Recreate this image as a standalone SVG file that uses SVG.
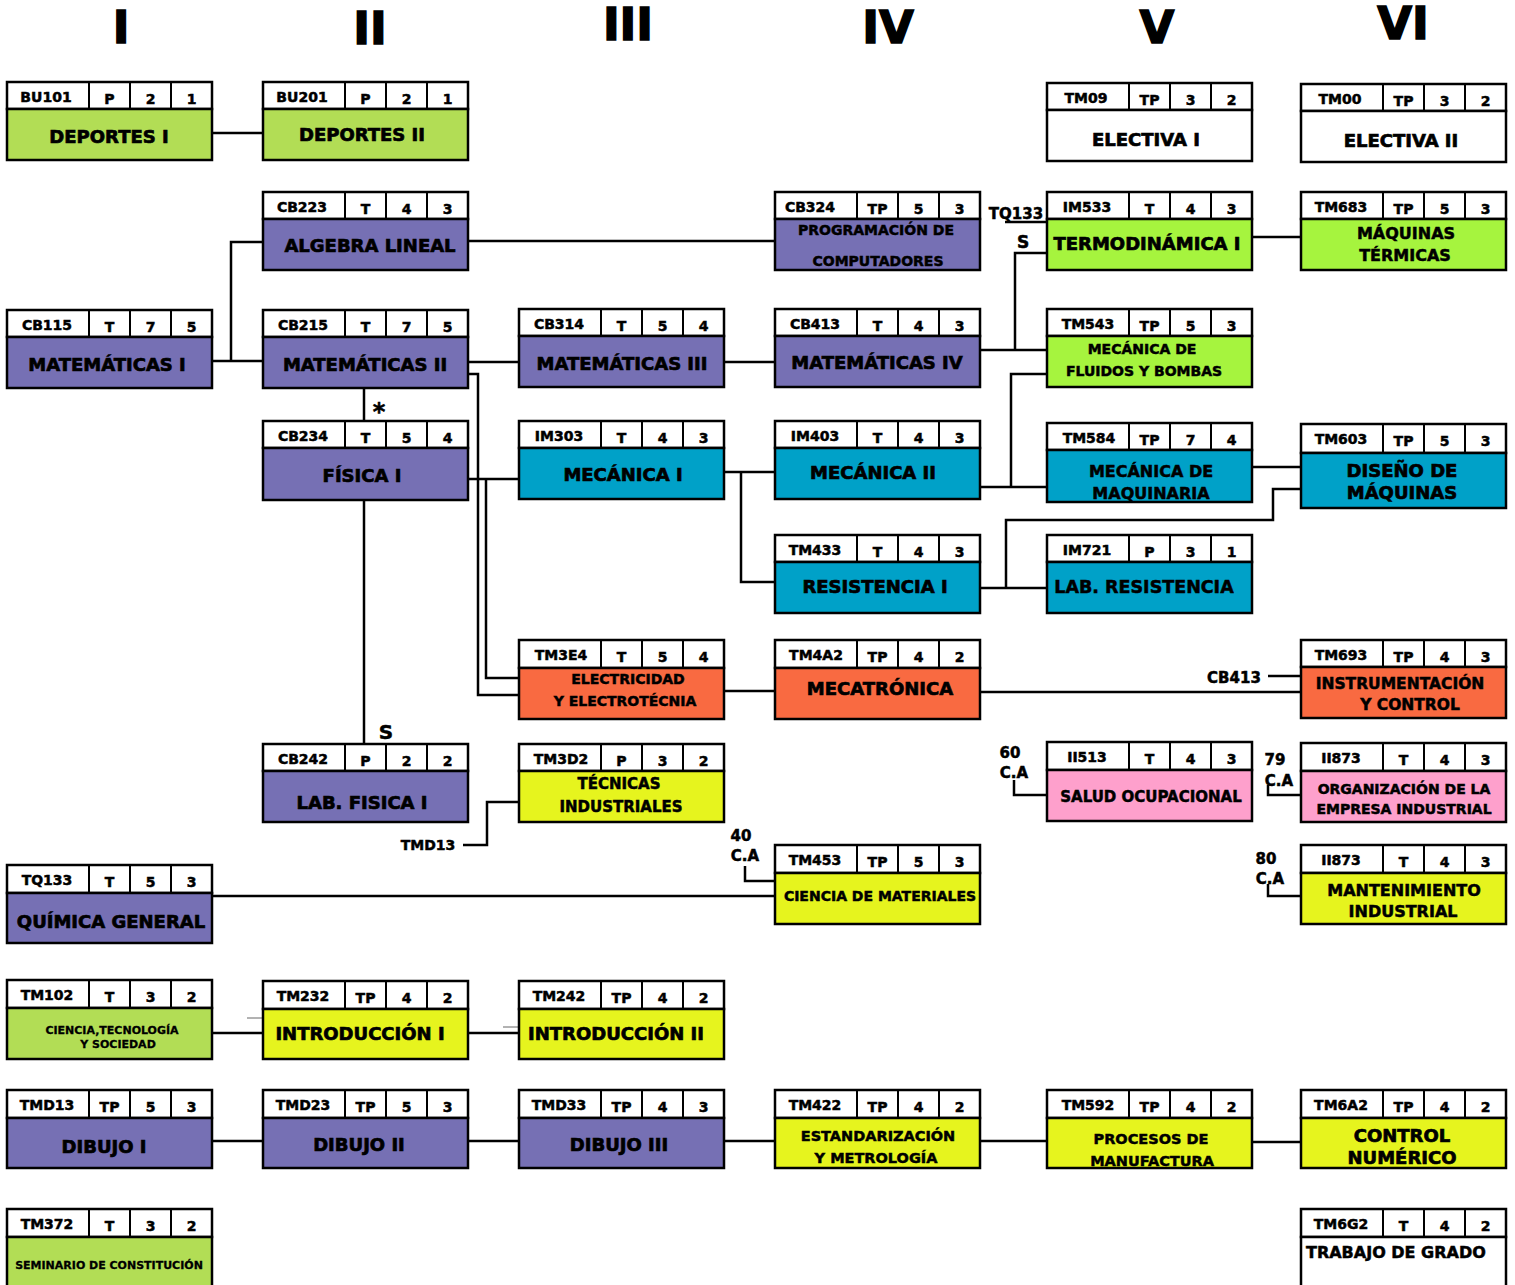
<svg xmlns="http://www.w3.org/2000/svg" width="1515" height="1285" viewBox="0 0 1515 1285">
<style>
.hd{fill:#fff;stroke:#000;stroke-width:2.5}
.bd{stroke:#000;stroke-width:2.5}
.dv{stroke:#000;stroke-width:2}
text{font-family:"DejaVu Sans","Liberation Sans",sans-serif;font-weight:bold;fill:#000;text-anchor:middle;stroke:#000;stroke-width:0.5}
.c{font-size:14px}
.b{font-size:18px;stroke-width:0.7}
.m{font-size:14px}
.s{font-size:11px;stroke-width:0.3}
.col{font-size:45px;stroke-width:1.5}
.lbl{font-size:15px}
.pu{fill:#7670B4}.lg{fill:#B2DD55}.bg{fill:#A6F43E}.bl{fill:#00A1C8}.or{fill:#F96A41}.ye{fill:#E6F41E}.pk{fill:#FEA0CC}.wh{fill:#fff}
.conn path{fill:none;stroke:#000;stroke-width:2.5}
.conn .thin{stroke:#666;stroke-width:1}
</style>
<rect width="1515" height="1285" fill="#fff"/>
<g id="headers">
<text class="col" x="121" y="43">I</text>
<text class="col" x="370" y="44">II</text>
<text class="col" x="628" y="40">III</text>
<text class="col" x="888" y="43">IV</text>
<text class="col" x="1157" y="43">V</text>
<text class="col" x="1403" y="39">VI</text>
</g>
<g class="conn" id="connectors">
<path d="M211,133 H263"/>
<path d="M211,361 H263 M231,361 V242 H263"/>
<path d="M467,241 H775"/>
<path d="M467,362 H519"/>
<path d="M723,362 H775"/>
<path d="M980,350 H1047 M1015,350 V253 H1047"/>
<path d="M1005,222 H1047"/>
<path d="M1252,237 H1301"/>
<path d="M467,374 H478 V695 H519"/>
<path d="M467,479 H519 M486,479 V678 H519"/>
<path d="M364,388 V421"/>
<path d="M364,500 V744"/>
<path d="M723,472 H775 M741,472 V582 H775"/>
<path d="M980,487 H1047 M1011,487 V374 H1047"/>
<path d="M1252,467 H1301"/>
<path d="M1301,489 H1273 V520 H1006 V588 M980,588 H1047"/>
<path d="M723,691 H775"/>
<path d="M980,692 H1301"/>
<path d="M1268,676 H1301"/>
<path d="M463,845 H487 V802 H519"/>
<path d="M211,896 H775"/>
<path d="M745,866 V881 H775"/>
<path d="M1014,780 V795 H1047"/>
<path d="M1268,785 V795 H1301"/>
<path d="M1268,884 V896 H1301"/>
<path d="M211,1033 H263"/>
<path class="thin" d="M247,1018 H263"/>
<path d="M467,1033 H519"/>
<path class="thin" d="M503,1027 H519"/>
<path d="M211,1141 H263 M467,1141 H519 M723,1141 H775 M980,1141 H1047 M1252,1142 H1301"/>
</g>
<g id="labels">
<text class="lbl" x="1016" y="219">TQ133</text>
<text style="font-size:17px" x="1023" y="248">S</text>
<text style="font-size:24px" x="379" y="420">*</text>
<text style="font-size:20px" x="386" y="739">S</text>
<text class="lbl" x="1234" y="683">CB413</text>
<text class="c" x="428" y="850">TMD13</text>
<text class="lbl" x="741" y="841">40</text>
<text class="lbl" x="745" y="861">C.A</text>
<text class="lbl" x="1010" y="758">60</text>
<text class="lbl" x="1014" y="778">C.A</text>
<text class="lbl" x="1275" y="765">79</text>
<text class="lbl" x="1279" y="786">C.A</text>
<text class="lbl" x="1266" y="864">80</text>
<text class="lbl" x="1270" y="884">C.A</text>
</g>

<g id="BU101"><rect class="hd" x="7" y="82" width="205" height="27"/><rect class="bd lg" x="7" y="109" width="205" height="51"/><path class="dv" d="M89,82V109M130,82V109M171,82V109"/><text class="c" x="46" y="102">BU101</text><text class="c" x="109.5" y="104">P</text><text class="c" x="150.5" y="104">2</text><text class="c" x="191.5" y="104">1</text><text class="b" x="109" y="143">DEPORTES I</text></g>
<g id="BU201"><rect class="hd" x="263" y="82" width="205" height="27"/><rect class="bd lg" x="263" y="109" width="205" height="51"/><path class="dv" d="M345,82V109M386,82V109M427,82V109"/><text class="c" x="302" y="102">BU201</text><text class="c" x="365.5" y="104">P</text><text class="c" x="406.5" y="104">2</text><text class="c" x="447.5" y="104">1</text><text class="b" x="362" y="141">DEPORTES II</text></g>
<g id="TM09"><rect class="hd" x="1047" y="83" width="205" height="27"/><rect class="bd wh" x="1047" y="110" width="205" height="51"/><path class="dv" d="M1129,83V110M1170,83V110M1211,83V110"/><text class="c" x="1086" y="103">TM09</text><text class="c" x="1149.5" y="105">TP</text><text class="c" x="1190.5" y="105">3</text><text class="c" x="1231.5" y="105">2</text><text class="b" x="1146" y="146">ELECTIVA I</text></g>
<g id="TM00"><rect class="hd" x="1301" y="84" width="205" height="27"/><rect class="bd wh" x="1301" y="111" width="205" height="51"/><path class="dv" d="M1383,84V111M1424,84V111M1465,84V111"/><text class="c" x="1340" y="104">TM00</text><text class="c" x="1403.5" y="106">TP</text><text class="c" x="1444.5" y="106">3</text><text class="c" x="1485.5" y="106">2</text><text class="b" x="1401" y="147">ELECTIVA II</text></g>

<g id="CB223"><rect class="hd" x="263" y="192" width="205" height="27"/><rect class="bd pu" x="263" y="219" width="205" height="51"/><path class="dv" d="M345,192V219M386,192V219M427,192V219"/><text class="c" x="302" y="212">CB223</text><text class="c" x="365.5" y="214">T</text><text class="c" x="406.5" y="214">4</text><text class="c" x="447.5" y="214">3</text><text class="b" x="370" y="252">ALGEBRA LINEAL</text></g>
<g id="CB324"><rect class="hd" x="775" y="192" width="205" height="27"/><rect class="bd pu" x="775" y="219" width="205" height="51"/><path class="dv" d="M857,192V219M898,192V219M939,192V219"/><text class="c" x="810" y="212">CB324</text><text class="c" x="877.5" y="214">TP</text><text class="c" x="918.5" y="214">5</text><text class="c" x="959.5" y="214">3</text><text class="m" x="876" y="235">PROGRAMACIÓN DE</text><text class="m" x="878" y="266">COMPUTADORES</text></g>
<g id="IM533"><rect class="hd" x="1047" y="192" width="205" height="27"/><rect class="bd bg" x="1047" y="219" width="205" height="51"/><path class="dv" d="M1129,192V219M1170,192V219M1211,192V219"/><text class="c" x="1087" y="212">IM533</text><text class="c" x="1149.5" y="214">T</text><text class="c" x="1190.5" y="214">4</text><text class="c" x="1231.5" y="214">3</text><text class="b" x="1147" y="250">TERMODINÁMICA I</text></g>
<g id="TM683"><rect class="hd" x="1301" y="192" width="205" height="27"/><rect class="bd bg" x="1301" y="219" width="205" height="51"/><path class="dv" d="M1383,192V219M1424,192V219M1465,192V219"/><text class="c" x="1341" y="212">TM683</text><text class="c" x="1403.5" y="214">TP</text><text class="c" x="1444.5" y="214">5</text><text class="c" x="1485.5" y="214">3</text><text style="font-size:16px" x="1406" y="239">MÁQUINAS</text><text style="font-size:16px" x="1405" y="261">TÉRMICAS</text></g>

<g id="CB115"><rect class="hd" x="7" y="310" width="205" height="27"/><rect class="bd pu" x="7" y="337" width="205" height="51"/><path class="dv" d="M89,310V337M130,310V337M171,310V337"/><text class="c" x="47" y="330">CB115</text><text class="c" x="109.5" y="332">T</text><text class="c" x="150.5" y="332">7</text><text class="c" x="191.5" y="332">5</text><text class="b" x="107" y="371">MATEMÁTICAS I</text></g>
<g id="CB215"><rect class="hd" x="263" y="310" width="205" height="27"/><rect class="bd pu" x="263" y="337" width="205" height="51"/><path class="dv" d="M345,310V337M386,310V337M427,310V337"/><text class="c" x="303" y="330">CB215</text><text class="c" x="365.5" y="332">T</text><text class="c" x="406.5" y="332">7</text><text class="c" x="447.5" y="332">5</text><text class="b" x="365" y="371">MATEMÁTICAS II</text></g>
<g id="CB314"><rect class="hd" x="519" y="309" width="205" height="27"/><rect class="bd pu" x="519" y="336" width="205" height="51"/><path class="dv" d="M601,309V336M642,309V336M683,309V336"/><text class="c" x="559" y="329">CB314</text><text class="c" x="621.5" y="331">T</text><text class="c" x="662.5" y="331">5</text><text class="c" x="703.5" y="331">4</text><text class="b" x="622" y="370">MATEMÁTICAS III</text></g>
<g id="CB413"><rect class="hd" x="775" y="309" width="205" height="27"/><rect class="bd pu" x="775" y="336" width="205" height="51"/><path class="dv" d="M857,309V336M898,309V336M939,309V336"/><text class="c" x="815" y="329">CB413</text><text class="c" x="877.5" y="331">T</text><text class="c" x="918.5" y="331">4</text><text class="c" x="959.5" y="331">3</text><text class="b" x="877" y="369">MATEMÁTICAS IV</text></g>
<g id="TM543"><rect class="hd" x="1047" y="309" width="205" height="27"/><rect class="bd bg" x="1047" y="336" width="205" height="51"/><path class="dv" d="M1129,309V336M1170,309V336M1211,309V336"/><text class="c" x="1088" y="329">TM543</text><text class="c" x="1149.5" y="331">TP</text><text class="c" x="1190.5" y="331">5</text><text class="c" x="1231.5" y="331">3</text><text class="m" x="1142" y="354">MECÁNICA DE</text><text class="m" x="1144" y="376">FLUIDOS Y BOMBAS</text></g>

<g id="CB234"><rect class="hd" x="263" y="421" width="205" height="27"/><rect class="bd pu" x="263" y="448" width="205" height="52"/><path class="dv" d="M345,421V448M386,421V448M427,421V448"/><text class="c" x="303" y="441">CB234</text><text class="c" x="365.5" y="443">T</text><text class="c" x="406.5" y="443">5</text><text class="c" x="447.5" y="443">4</text><text class="b" x="362" y="482">FÍSICA I</text></g>
<g id="IM303"><rect class="hd" x="519" y="421" width="205" height="27"/><rect class="bd bl" x="519" y="448" width="205" height="51"/><path class="dv" d="M601,421V448M642,421V448M683,421V448"/><text class="c" x="559" y="441">IM303</text><text class="c" x="621.5" y="443">T</text><text class="c" x="662.5" y="443">4</text><text class="c" x="703.5" y="443">3</text><text class="b" x="623" y="481">MECÁNICA I</text></g>
<g id="IM403"><rect class="hd" x="775" y="421" width="205" height="27"/><rect class="bd bl" x="775" y="448" width="205" height="51"/><path class="dv" d="M857,421V448M898,421V448M939,421V448"/><text class="c" x="815" y="441">IM403</text><text class="c" x="877.5" y="443">T</text><text class="c" x="918.5" y="443">4</text><text class="c" x="959.5" y="443">3</text><text class="b" x="873" y="479">MECÁNICA II</text></g>
<g id="TM584"><rect class="hd" x="1047" y="423" width="205" height="27"/><rect class="bd bl" x="1047" y="450" width="205" height="52"/><path class="dv" d="M1129,423V450M1170,423V450M1211,423V450"/><text class="c" x="1089" y="443">TM584</text><text class="c" x="1149.5" y="445">TP</text><text class="c" x="1190.5" y="445">7</text><text class="c" x="1231.5" y="445">4</text><text style="font-size:16px" x="1151" y="477">MECÁNICA DE</text><text style="font-size:16px" x="1151" y="499">MAQUINARIA</text></g>
<g id="TM603"><rect class="hd" x="1301" y="424" width="205" height="29"/><rect class="bd bl" x="1301" y="453" width="205" height="55"/><path class="dv" d="M1383,424V453M1424,424V453M1465,424V453"/><text class="c" x="1341" y="444">TM603</text><text class="c" x="1403.5" y="446">TP</text><text class="c" x="1444.5" y="446">5</text><text class="c" x="1485.5" y="446">3</text><text class="b" x="1402" y="477">DISEÑO DE</text><text class="b" x="1402" y="499">MÁQUINAS</text></g>

<g id="TM433"><rect class="hd" x="775" y="535" width="205" height="27"/><rect class="bd bl" x="775" y="562" width="205" height="51"/><path class="dv" d="M857,535V562M898,535V562M939,535V562"/><text class="c" x="815" y="555">TM433</text><text class="c" x="877.5" y="557">T</text><text class="c" x="918.5" y="557">4</text><text class="c" x="959.5" y="557">3</text><text class="b" x="875" y="593">RESISTENCIA I</text></g>
<g id="IM721"><rect class="hd" x="1047" y="535" width="205" height="27"/><rect class="bd bl" x="1047" y="562" width="205" height="51"/><path class="dv" d="M1129,535V562M1170,535V562M1211,535V562"/><text class="c" x="1087" y="555">IM721</text><text class="c" x="1149.5" y="557">P</text><text class="c" x="1190.5" y="557">3</text><text class="c" x="1231.5" y="557">1</text><text style="font-size:17.5px" x="1144" y="593">LAB. RESISTENCIA</text></g>

<g id="TM3E4"><rect class="hd" x="519" y="640" width="205" height="28"/><rect class="bd or" x="519" y="668" width="205" height="51"/><path class="dv" d="M601,640V668M642,640V668M683,640V668"/><text class="c" x="561" y="660">TM3E4</text><text class="c" x="621.5" y="662">T</text><text class="c" x="662.5" y="662">5</text><text class="c" x="703.5" y="662">4</text><text class="m" x="628" y="684">ELECTRICIDAD</text><text class="m" x="625" y="706">Y ELECTROTÉCNIA</text></g>
<g id="TM4A2"><rect class="hd" x="775" y="640" width="205" height="28"/><rect class="bd or" x="775" y="668" width="205" height="51"/><path class="dv" d="M857,640V668M898,640V668M939,640V668"/><text class="c" x="816" y="660">TM4A2</text><text class="c" x="877.5" y="662">TP</text><text class="c" x="918.5" y="662">4</text><text class="c" x="959.5" y="662">2</text><text class="b" x="880" y="695">MECATRÓNICA</text></g>
<g id="TM693"><rect class="hd" x="1301" y="640" width="205" height="27"/><rect class="bd or" x="1301" y="667" width="205" height="51"/><path class="dv" d="M1383,640V667M1424,640V667M1465,640V667"/><text class="c" x="1341" y="660">TM693</text><text class="c" x="1403.5" y="662">TP</text><text class="c" x="1444.5" y="662">4</text><text class="c" x="1485.5" y="662">3</text><text style="font-size:15.5px" x="1400" y="689">INSTRUMENTACIÓN</text><text style="font-size:15.5px" x="1410" y="710">Y CONTROL</text></g>

<g id="CB242"><rect class="hd" x="263" y="744" width="205" height="27"/><rect class="bd pu" x="263" y="771" width="205" height="51"/><path class="dv" d="M345,744V771M386,744V771M427,744V771"/><text class="c" x="303" y="764">CB242</text><text class="c" x="365.5" y="766">P</text><text class="c" x="406.5" y="766">2</text><text class="c" x="447.5" y="766">2</text><text class="b" x="362" y="809">LAB. FISICA I</text></g>
<g id="TM3D2"><rect class="hd" x="519" y="744" width="205" height="27"/><rect class="bd ye" x="519" y="771" width="205" height="51"/><path class="dv" d="M601,744V771M642,744V771M683,744V771"/><text class="c" x="561" y="764">TM3D2</text><text class="c" x="621.5" y="766">P</text><text class="c" x="662.5" y="766">3</text><text class="c" x="703.5" y="766">2</text><text style="font-size:15px" x="619" y="789">TÉCNICAS</text><text style="font-size:15px" x="621" y="812">INDUSTRIALES</text></g>
<g id="II513"><rect class="hd" x="1047" y="742" width="205" height="28"/><rect class="bd pk" x="1047" y="770" width="205" height="51"/><path class="dv" d="M1129,742V770M1170,742V770M1211,742V770"/><text class="c" x="1087" y="762">II513</text><text class="c" x="1149.5" y="764">T</text><text class="c" x="1190.5" y="764">4</text><text class="c" x="1231.5" y="764">3</text><text style="font-size:15px" x="1151" y="802">SALUD OCUPACIONAL</text></g>
<g id="II873a"><rect class="hd" x="1301" y="743" width="205" height="28"/><rect class="bd pk" x="1301" y="771" width="205" height="51"/><path class="dv" d="M1383,743V771M1424,743V771M1465,743V771"/><text class="c" x="1341" y="763">II873</text><text class="c" x="1403.5" y="765">T</text><text class="c" x="1444.5" y="765">4</text><text class="c" x="1485.5" y="765">3</text><text class="m" x="1404" y="794">ORGANIZACIÓN DE LA</text><text class="m" x="1404" y="814">EMPRESA INDUSTRIAL</text></g>

<g id="TM453"><rect class="hd" x="775" y="845" width="205" height="28"/><rect class="bd ye" x="775" y="873" width="205" height="51"/><path class="dv" d="M857,845V873M898,845V873M939,845V873"/><text class="c" x="815" y="865">TM453</text><text class="c" x="877.5" y="867">TP</text><text class="c" x="918.5" y="867">5</text><text class="c" x="959.5" y="867">3</text><text class="m" x="880" y="901">CIENCIA DE MATERIALES</text></g>
<g id="II873b"><rect class="hd" x="1301" y="845" width="205" height="28"/><rect class="bd ye" x="1301" y="873" width="205" height="51"/><path class="dv" d="M1383,845V873M1424,845V873M1465,845V873"/><text class="c" x="1341" y="865">II873</text><text class="c" x="1403.5" y="867">T</text><text class="c" x="1444.5" y="867">4</text><text class="c" x="1485.5" y="867">3</text><text style="font-size:16px" x="1404" y="896">MANTENIMIENTO</text><text style="font-size:16px" x="1403" y="917">INDUSTRIAL</text></g>
<g id="TQ133"><rect class="hd" x="7" y="865" width="205" height="28"/><rect class="bd pu" x="7" y="893" width="205" height="50"/><path class="dv" d="M89,865V893M130,865V893M171,865V893"/><text class="c" x="47" y="885">TQ133</text><text class="c" x="109.5" y="887">T</text><text class="c" x="150.5" y="887">5</text><text class="c" x="191.5" y="887">3</text><text class="b" x="111" y="928">QUÍMICA GENERAL</text></g>

<g id="TM102"><rect class="hd" x="7" y="980" width="205" height="28"/><rect class="bd lg" x="7" y="1008" width="205" height="51"/><path class="dv" d="M89,980V1008M130,980V1008M171,980V1008"/><text class="c" x="47" y="1000">TM102</text><text class="c" x="109.5" y="1002">T</text><text class="c" x="150.5" y="1002">3</text><text class="c" x="191.5" y="1002">2</text><text class="s" x="112" y="1034">CIENCIA,TECNOLOGÍA</text><text class="s" x="118" y="1048">Y SOCIEDAD</text></g>
<g id="TM232"><rect class="hd" x="263" y="981" width="205" height="28"/><rect class="bd ye" x="263" y="1009" width="205" height="50"/><path class="dv" d="M345,981V1009M386,981V1009M427,981V1009"/><text class="c" x="303" y="1001">TM232</text><text class="c" x="365.5" y="1003">TP</text><text class="c" x="406.5" y="1003">4</text><text class="c" x="447.5" y="1003">2</text><text class="b" x="360" y="1040">INTRODUCCIÓN I</text></g>
<g id="TM242"><rect class="hd" x="519" y="981" width="205" height="28"/><rect class="bd ye" x="519" y="1009" width="205" height="50"/><path class="dv" d="M601,981V1009M642,981V1009M683,981V1009"/><text class="c" x="559" y="1001">TM242</text><text class="c" x="621.5" y="1003">TP</text><text class="c" x="662.5" y="1003">4</text><text class="c" x="703.5" y="1003">2</text><text class="b" x="616" y="1040">INTRODUCCIÓN II</text></g>

<g id="TMD13"><rect class="hd" x="7" y="1090" width="205" height="28"/><rect class="bd pu" x="7" y="1118" width="205" height="50"/><path class="dv" d="M89,1090V1118M130,1090V1118M171,1090V1118"/><text class="c" x="47" y="1110">TMD13</text><text class="c" x="109.5" y="1112">TP</text><text class="c" x="150.5" y="1112">5</text><text class="c" x="191.5" y="1112">3</text><text class="b" x="104" y="1153">DIBUJO I</text></g>
<g id="TMD23"><rect class="hd" x="263" y="1090" width="205" height="28"/><rect class="bd pu" x="263" y="1118" width="205" height="50"/><path class="dv" d="M345,1090V1118M386,1090V1118M427,1090V1118"/><text class="c" x="303" y="1110">TMD23</text><text class="c" x="365.5" y="1112">TP</text><text class="c" x="406.5" y="1112">5</text><text class="c" x="447.5" y="1112">3</text><text class="b" x="359" y="1151">DIBUJO II</text></g>
<g id="TMD33"><rect class="hd" x="519" y="1090" width="205" height="28"/><rect class="bd pu" x="519" y="1118" width="205" height="50"/><path class="dv" d="M601,1090V1118M642,1090V1118M683,1090V1118"/><text class="c" x="559" y="1110">TMD33</text><text class="c" x="621.5" y="1112">TP</text><text class="c" x="662.5" y="1112">4</text><text class="c" x="703.5" y="1112">3</text><text class="b" x="619" y="1151">DIBUJO III</text></g>
<g id="TM422"><rect class="hd" x="775" y="1090" width="205" height="28"/><rect class="bd ye" x="775" y="1118" width="205" height="50"/><path class="dv" d="M857,1090V1118M898,1090V1118M939,1090V1118"/><text class="c" x="815" y="1110">TM422</text><text class="c" x="877.5" y="1112">TP</text><text class="c" x="918.5" y="1112">4</text><text class="c" x="959.5" y="1112">2</text><text style="font-size:14.5px" x="878" y="1141">ESTANDARIZACIÓN</text><text style="font-size:14.5px" x="876" y="1163">Y METROLOGÍA</text></g>
<g id="TM592"><rect class="hd" x="1047" y="1090" width="205" height="28"/><rect class="bd ye" x="1047" y="1118" width="205" height="50"/><path class="dv" d="M1129,1090V1118M1170,1090V1118M1211,1090V1118"/><text class="c" x="1088" y="1110">TM592</text><text class="c" x="1149.5" y="1112">TP</text><text class="c" x="1190.5" y="1112">4</text><text class="c" x="1231.5" y="1112">2</text><text style="font-size:14.5px" x="1151" y="1144">PROCESOS DE</text><text style="font-size:14.5px" x="1152" y="1166">MANUFACTURA</text></g>
<g id="TM6A2"><rect class="hd" x="1301" y="1090" width="205" height="28"/><rect class="bd ye" x="1301" y="1118" width="205" height="50"/><path class="dv" d="M1383,1090V1118M1424,1090V1118M1465,1090V1118"/><text class="c" x="1341" y="1110">TM6A2</text><text class="c" x="1403.5" y="1112">TP</text><text class="c" x="1444.5" y="1112">4</text><text class="c" x="1485.5" y="1112">2</text><text class="b" x="1402" y="1142">CONTROL</text><text class="b" x="1402" y="1164">NUMÉRICO</text></g>

<g id="TM372"><rect class="hd" x="7" y="1209" width="205" height="28"/><rect class="bd lg" x="7" y="1237" width="205" height="60"/><path class="dv" d="M89,1209V1237M130,1209V1237M171,1209V1237"/><text class="c" x="47" y="1229">TM372</text><text class="c" x="109.5" y="1231">T</text><text class="c" x="150.5" y="1231">3</text><text class="c" x="191.5" y="1231">2</text><text class="s" x="109" y="1269">SEMINARIO DE CONSTITUCIÓN</text></g>
<g id="TM6G2"><rect class="hd" x="1301" y="1209" width="205" height="28"/><rect class="bd wh" x="1301" y="1237" width="205" height="60"/><path class="dv" d="M1383,1209V1237M1424,1209V1237M1465,1209V1237"/><text class="c" x="1341" y="1229">TM6G2</text><text class="c" x="1403.5" y="1231">T</text><text class="c" x="1444.5" y="1231">4</text><text class="c" x="1485.5" y="1231">2</text><text style="font-size:16px;text-anchor:start" x="1306" y="1258">TRABAJO DE GRADO</text></g>
</svg>
